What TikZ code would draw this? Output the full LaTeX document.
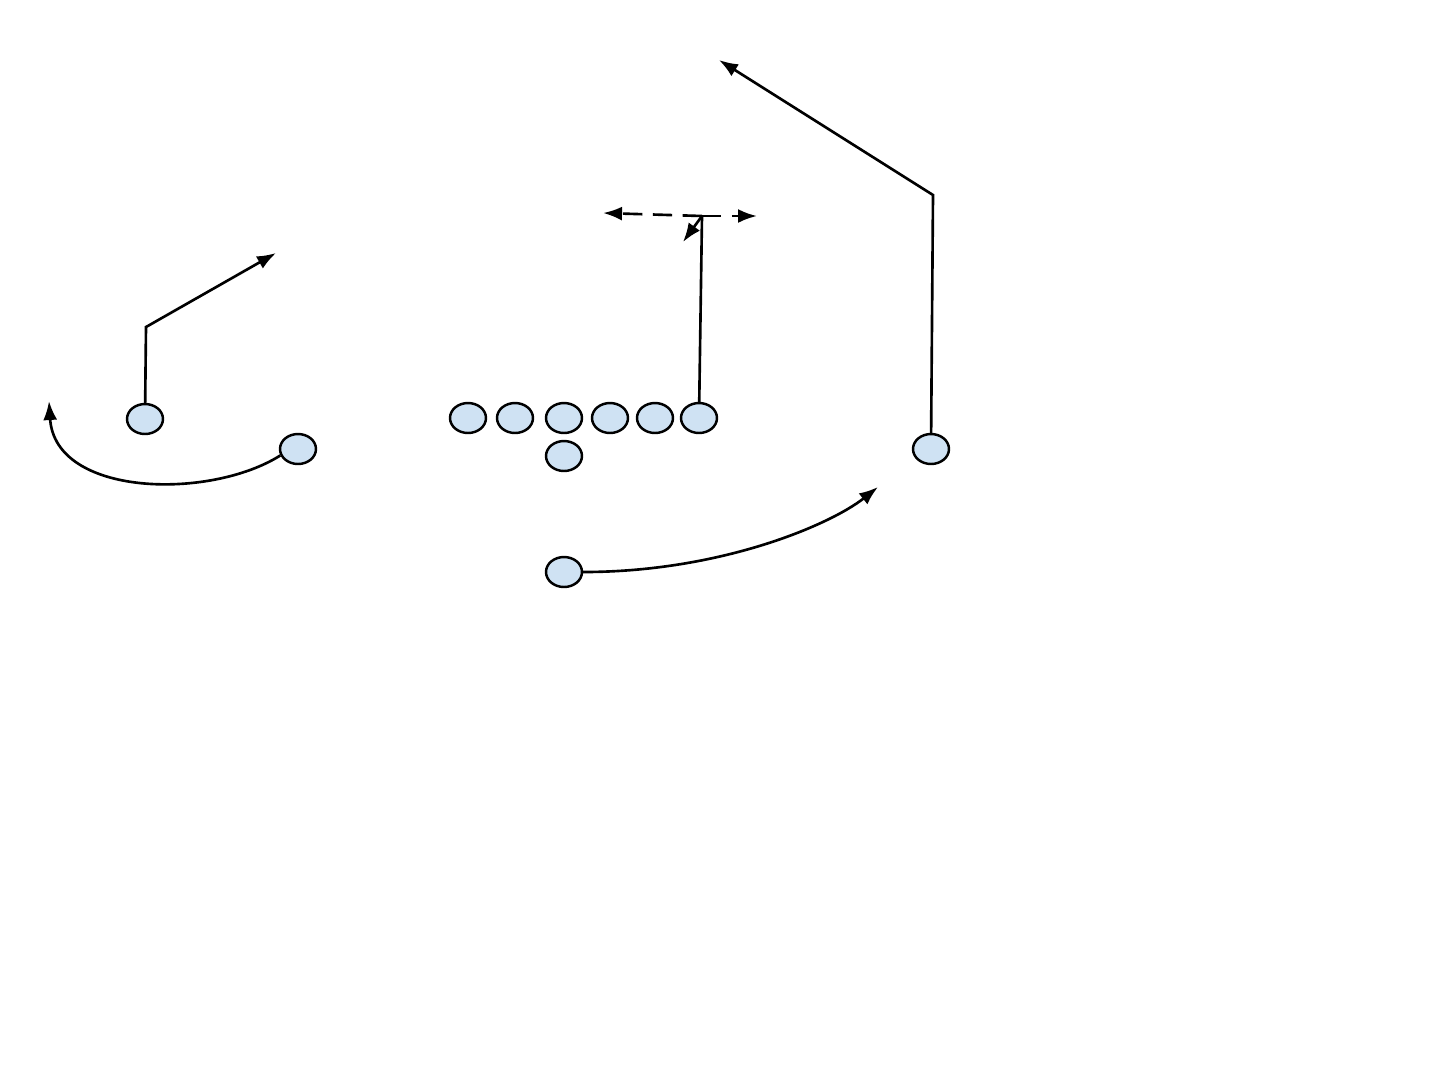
\documentclass[tikz,border=0pt]{standalone}
\usepackage{tikz}
\usetikzlibrary{arrows.meta,shapes.geometric}
\definecolor{playerblue}{HTML}{CFE2F3}

\begin{document}
\begin{tikzpicture}[x=0.02cm,y=-0.02cm,>={Latex[length=0.38cm,width=0.28cm]},
	player/.style={ellipse,draw,fill=playerblue,line width=1.4pt,minimum width=0.72cm,minimum height=0.6cm,inner sep=0pt},
	route/.style={line width=1.5pt}]
			\useasboundingbox (0,0) rectangle (1440,1080);
			% line
			\foreach \x/\n in {468/lt,515/lg,564/c,610/rg,655/rt,699/te}
				\node[player] (\n) at (\x,418) {};
			\node[player] (qb) at (564,456) {};
			\node[player] (rb) at (564,572) {};
			\node[player] (lwr) at (145,419) {};
			\node[player] (slot) at (298,449) {};
			\node[player] (rwr) at (931,449) {};
			% routes
			\coordinate (lwrbreak) at (146,327);
			\draw[route,->] (lwr) -- (lwrbreak) -- (276,253);
			\draw[route,->] (slot.200) .. controls (210,500) and (55,497) .. (49,401);
			\coordinate (tebreak) at (702,216);
			\draw[route] (te) -- (tebreak);
			\draw[route,dash pattern=on 11pt off 6pt,->] (tebreak) -- (603,213);
			\draw[route,dash pattern=on 11pt off 6pt,->] (tebreak) -- (757,216);
			\draw[route,->] (tebreak) -- (683,242);
			\coordinate (rwrbreak) at (933,195);
			\draw[route,->] (rwr) -- (rwrbreak) -- (719,60);
			\draw[route,->] (rb.east) .. controls (720,572) and (830,525) .. (878,487);
\end{tikzpicture}
\end{document}
